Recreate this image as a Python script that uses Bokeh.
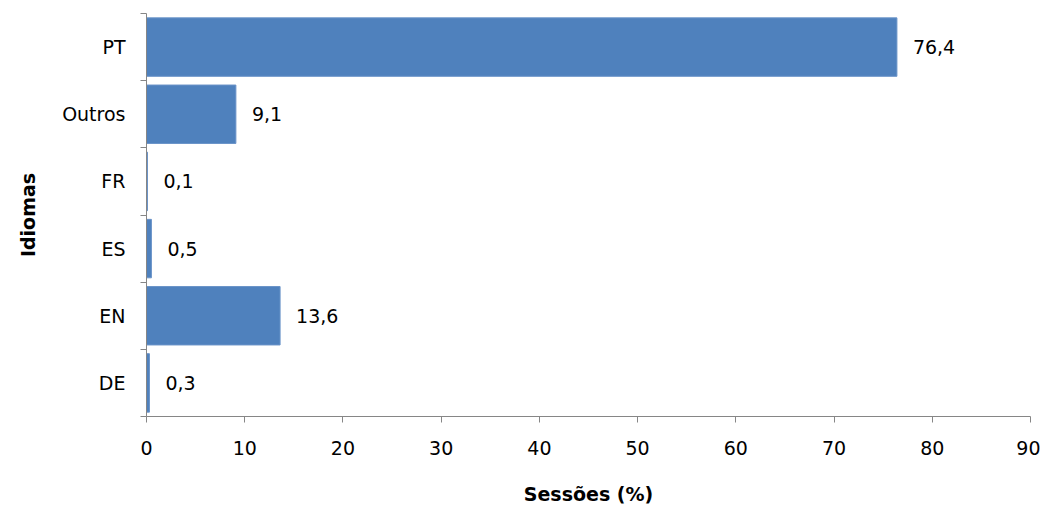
from bokeh.plotting import figure
from bokeh.models import Range1d, FixedTicker, LabelSet, ColumnDataSource
from bokeh.core.properties import value
from bokeh.embed import file_html
from bokeh.resources import INLINE

categories = ["DE", "EN", "ES", "FR", "Outros", "PT"]
values = [0.3, 13.6, 0.5, 0.1, 9.1, 76.4]
x_ticks = [0, 10, 20, 30, 40, 50, 60, 70, 80, 90]

FONT = "DejaVu Sans"
AXIS_COLOR = "#868686"

pos = [i + 0.5 for i in range(len(categories))]
labels = [f"{v:.1f}".replace(".", ",") for v in values]
src = ColumnDataSource(dict(y=pos, v=values, lab=labels, cat=categories))

p = figure(width=1040, height=507, output_backend="svg", toolbar_location=None,
           x_range=Range1d(0, 90), y_range=Range1d(0, len(categories)),
           min_border_left=146, min_border_top=13, min_border_right=10, min_border_bottom=84)
p.outline_line_color = None
p.xgrid.visible = False
p.ygrid.visible = False

p.hbar(y="y", right="v", left=0, height=0.87, source=src,
       fill_color="#4F81BD", line_color="#6A93C8", line_width=1)

p.add_layout(LabelSet(x="v", y="y", text="lab", source=src, x_offset=16,
                      text_baseline="middle", text_font=value(FONT), text_font_size="19px",
                      text_color="black"))

# x axis
xa = p.xaxis[0]
xa.ticker = FixedTicker(ticks=x_ticks, minor_ticks=[])
xa.axis_line_color = AXIS_COLOR
xa.major_tick_line_color = AXIS_COLOR
xa.major_tick_out = 6
xa.major_tick_in = 0
xa.minor_tick_line_color = None
xa.major_label_standoff = 18
xa.major_label_text_font = FONT
xa.major_label_text_font_size = "19px"
xa.major_label_text_color = "black"
xa.axis_label = "Sessões (%)"
xa.axis_label_text_font = FONT
xa.axis_label_text_font_size = "19px"
xa.axis_label_text_font_style = "bold"
xa.axis_label_text_color = "black"
xa.axis_label_standoff = 25

# y axis
ya = p.yaxis[0]
ya.ticker = FixedTicker(ticks=pos, minor_ticks=list(range(len(categories) + 1)))
ya.major_label_overrides = {p_: c for p_, c in zip(pos, categories)}
ya.axis_line_color = AXIS_COLOR
ya.major_tick_line_color = None
ya.major_tick_out = 0
ya.major_tick_in = 0
ya.minor_tick_line_color = AXIS_COLOR
ya.minor_tick_out = 6
ya.minor_tick_in = 0
ya.major_label_standoff = 15
ya.major_label_text_font = FONT
ya.major_label_text_font_size = "19px"
ya.major_label_text_color = "black"
ya.axis_label = "Idiomas"
ya.axis_label_text_font = FONT
ya.axis_label_text_font_size = "19px"
ya.axis_label_text_font_style = "bold"
ya.axis_label_text_color = "black"
ya.axis_label_standoff = 20

open("out.html", "w").write(file_html(p, INLINE))
